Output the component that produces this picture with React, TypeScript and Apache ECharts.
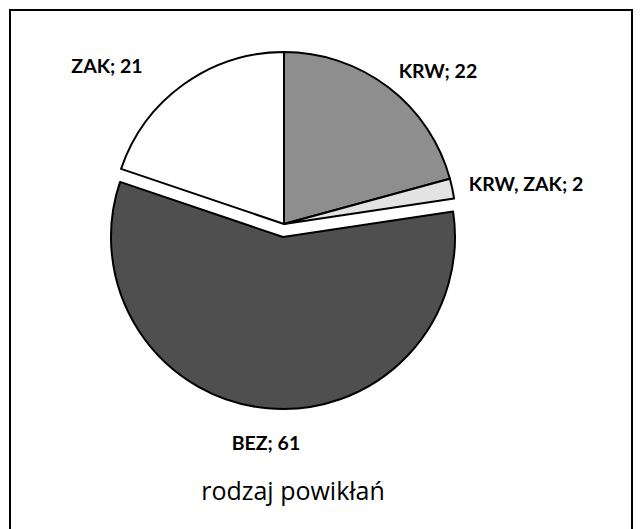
import React, { useEffect, useRef } from "react";
import * as echarts from "echarts";

const categories = ["KRW", "KRW, ZAK", "BEZ", "ZAK"];
const values = [22, 2, 61, 21];
const sliceColors = ["#8e8e8e", "#e3e3e3", "#4f4f4f", "#ffffff"];
const explodedCategory = "BEZ";
const titleText = "rodzaj powikłań";

// label anchor positions (layout only)
const labelPos: Record<string, [number, number]> = {
  KRW: [438, 70],
  "KRW, ZAK": [526, 183],
  BEZ: [266, 442],
  ZAK: [107, 65],
};

const PIE_CENTER: [number, number] = [284, 224];
const EXPLODE_SHIFT: [number, number] = [-1, 13];

function makeSeries(exploded: boolean) {
  return {
    type: "pie",
    center: exploded
      ? [PIE_CENTER[0] + EXPLODE_SHIFT[0], PIE_CENTER[1] + EXPLODE_SHIFT[1]]
      : PIE_CENTER,
    radius: 172,
    startAngle: 90,
    clockwise: true,
    avoidLabelOverlap: false,
    silent: true,
    labelLine: { show: false },
    labelLayout: (params: any) => {
      const name = categories[params.dataIndex];
      const pos = labelPos[name];
      return { x: pos[0], y: pos[1], align: "center", verticalAlign: "middle" };
    },
    emphasis: { disabled: true },
    data: categories.map((c, i) => {
      const visible = (c === explodedCategory) === exploded;
      return {
        name: c,
        value: values[i],
        itemStyle: visible
          ? { color: sliceColors[i], borderColor: "#000", borderWidth: 2 }
          : { color: "rgba(0,0,0,0)", borderWidth: 0 },
        label: {
          show: visible,
          position: "outside",
          formatter: (p: any) => `${p.name}; ${p.value}`,
          fontFamily: "Lato",
          fontWeight: "bold",
          fontSize: 19.5,
          color: "#000",
        },
      };
    }),
  };
}

export default function App() {
  const ref = useRef<HTMLDivElement>(null);
  useEffect(() => {
    if (!ref.current) return;
    const chart = echarts.init(ref.current, undefined, { renderer: "svg" });
    chart.setOption({
      animation: false,
      backgroundColor: "#ffffff",
      title: {
        text: titleText,
        left: 288,
        top: 472,
        textAlign: "center",
        textStyle: {
          fontFamily: "Open Sans",
          fontWeight: "normal",
          fontSize: 25,
          color: "#000",
        },
      },
      graphic: [
        {
          type: "rect",
          shape: { x: 10, y: 10, width: 622, height: 540 },
          style: { fill: "none", stroke: "#000", lineWidth: 2 },
          silent: true,
        },
      ],
      series: [makeSeries(false), makeSeries(true)],
    });
    return () => chart.dispose();
  }, []);
  return (
    <div
      ref={ref}
      style={{ position: "absolute", left: 0, top: 0, width: 642, height: 529 }}
    />
  );
}
